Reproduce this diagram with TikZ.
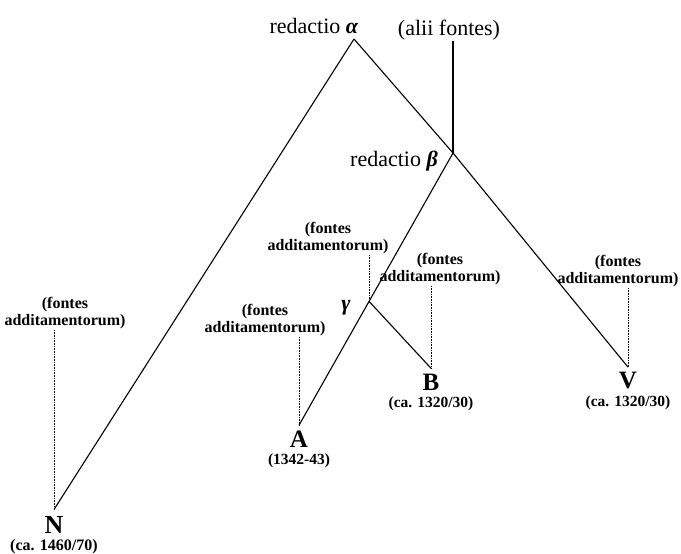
\documentclass[tikz,border=0pt]{standalone}
\usepackage{fontspec}
\setmainfont{Liberation Serif}
\usetikzlibrary{positioning, calc}

\begin{document}
\begin{tikzpicture}[x=1pt, y=-1pt,
      sigle/.style={font=\fontsize{25}{25}\selectfont\bfseries, inner sep=0pt, outer sep=5.5pt},
      datum/.style={font=\fontsize{15.5}{17}\selectfont\bfseries, inner sep=1pt},
      fontes/.style={font=\fontsize{16}{17}\selectfont\bfseries, align=center,
                     inner sep=1pt, anchor=south},
      redactio/.style={font=\fontsize{22}{22}\selectfont, inner sep=1pt},
      linea/.style={line width=1.1pt},
      addit/.style={line width=0.9pt, dash pattern=on 0.8pt off 0.8pt}]

  \useasboundingbox (0,0) rectangle (681,554);

  % redactiones
  \node[redactio, anchor=base] (ra) at (314,33) {redactio \textbf{\textit{α}}};
  \node[redactio, anchor=south] (alii) at (449,41) {(alii fontes)};
  \node[redactio, anchor=base] (rb) at (394,166) {redactio \textbf{\textit{β}}};
  \coordinate (alpha) at (354,39);
  \coordinate (beta) at (453,153);

  % codices
  \node[sigle] (V) at (628,381) {V};
  \node[sigle] (B) at (431,382) {B};
  \node[sigle] (A) at (299,439) {A};
  \node[sigle, font=\fontsize{26}{26}\selectfont\bfseries, outer sep=7pt] (N) at (54,525) {N};
  \coordinate (gamma) at ($(beta)!0.545!(A.north)$);
  \node[font=\fontsize{22}{22}\selectfont\bfseries\itshape] (g) at (346,308) {γ};

  \node[datum, below=0pt of V] (dV) {(ca. 1320/30)};
  \node[datum, below=0pt of B] (dB) {(ca. 1320/30)};
  \node[datum, below=0pt of A] (dA) {(1342-43)};
  \node[datum, font=\fontsize{16}{16}\selectfont\bfseries, below=-2pt of N] (dN) {(ca. 1460/70)};

  % fontes additamentorum
  \node[fontes] (fN) at (65,330) {(fontes\\additamentorum)};
  \node[fontes] (fA) at (265,337) {(fontes\\additamentorum)};
  \node[fontes] (fG) at (328,255) {(fontes\\additamentorum)};
  \node[fontes] (fB) at (440,286) {(fontes\\additamentorum)};
  \node[fontes] (fV) at (618,288) {(fontes\\additamentorum)};

  \draw[linea] (alpha) -- (N.north);
  \draw[linea] (alpha) -- (beta) -- (V.north);
  \draw[linea] (beta) -- (A.north);
  \draw[linea] (gamma) -- (B.north);
  \draw[linea, line width=1.6pt] (alii.south -| beta) -- (beta);

  \draw[addit] (fN.south -| N) -- (N.north);
  \draw[addit] (fA.south -| A) -- (A.north);
  \draw[addit] (fG.south -| gamma) -- (gamma);
  \draw[addit] (fB.south -| B) -- (B.north);
  \draw[addit] (fV.south -| V) -- (V.north);
\end{tikzpicture}
\end{document}
